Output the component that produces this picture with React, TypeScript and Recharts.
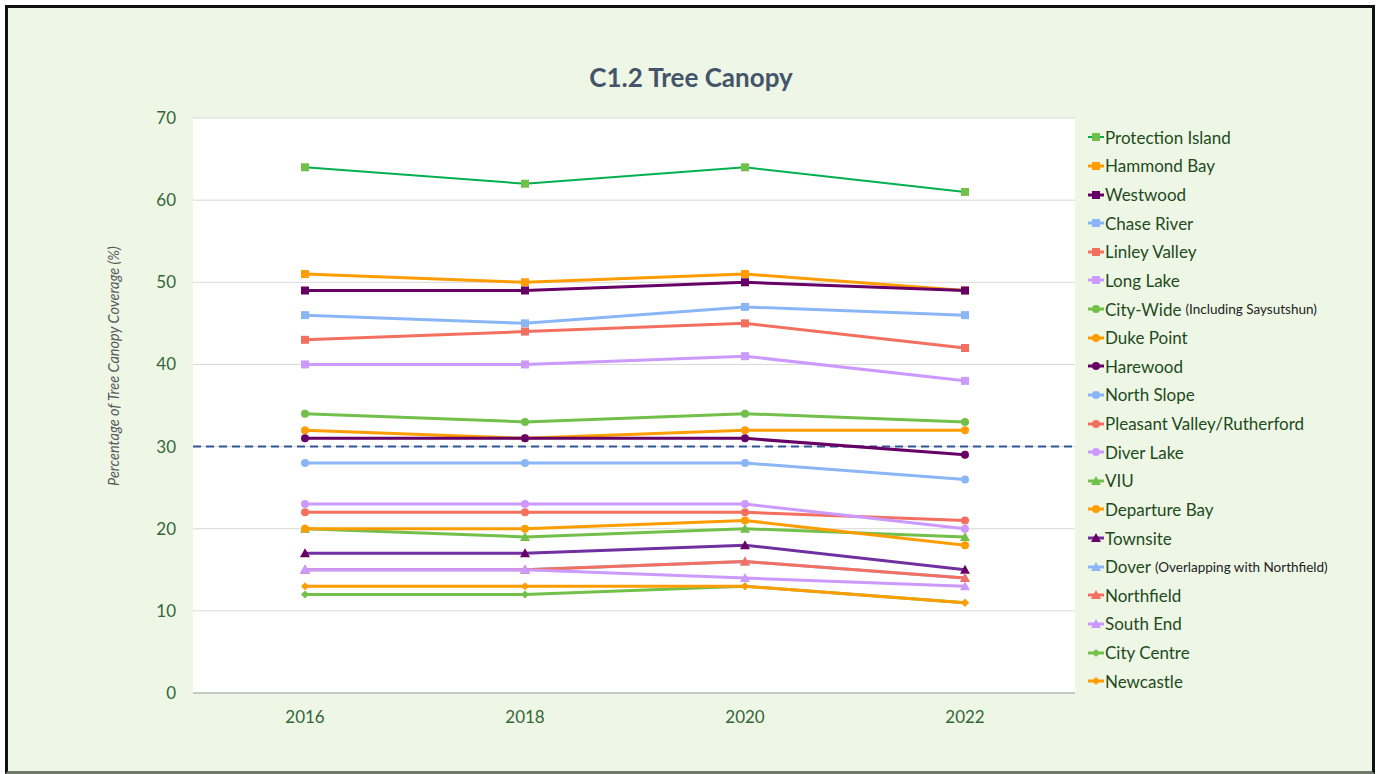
import React from 'react';
import {
  LineChart,
  Line,
  XAxis,
  YAxis,
  CartesianGrid,
  ReferenceLine
} from 'recharts';

const years = ['2016', '2018', '2020', '2022'];
const yTicks = [0, 10, 20, 30, 40, 50, 60, 70];
const target = 30;

const protectionIsland = [64, 62, 64, 61];
const hammondBay = [51, 50, 51, 49];
const westwood = [49, 49, 50, 49];
const chaseRiver = [46, 45, 47, 46];
const linleyValley = [43, 44, 45, 42];
const longLake = [40, 40, 41, 38];
const cityWide = [34, 33, 34, 33];
const dukePoint = [32, 31, 32, 32];
const harewood = [31, 31, 31, 29];
const northSlope = [28, 28, 28, 26];
const pleasantValley = [22, 22, 22, 21];
const diverLake = [23, 23, 23, 20];
const viu = [20, 19, 20, 19];
const departureBay = [20, 20, 21, 18];
const townsite = [17, 17, 18, 15];
const dover = [15, 15, 16, 14];
const northfield = [15, 15, 16, 14];
const southEnd = [15, 15, 14, 13];
const cityCentre = [12, 12, 13, 11];
const newcastle = [13, 13, 13, 11];

const GREEN = '#72BF4A';
const ORANGE = '#FF9D00';
const PURPLE = '#660066';
const BLUE = '#8AB6F8';
const SALMON = '#F37060';
const LAVENDER = '#CC99FF';

type Marker = 'square' | 'circle' | 'triangle' | 'diamond';

interface Series {
  key: string;
  name: string;
  note?: string;
  values: number[];
  color: string;
  lineColor?: string;
  width?: number;
  marker: Marker;
}

const series: Series[] = [
  { key: 'pi', name: 'Protection Island', values: protectionIsland, color: GREEN, lineColor: '#00B050', width: 2, marker: 'square' },
  { key: 'hb', name: 'Hammond Bay', values: hammondBay, color: ORANGE, marker: 'square' },
  { key: 'ww', name: 'Westwood', values: westwood, color: PURPLE, marker: 'square' },
  { key: 'cr', name: 'Chase River', values: chaseRiver, color: BLUE, marker: 'square' },
  { key: 'lv', name: 'Linley Valley', values: linleyValley, color: SALMON, marker: 'square' },
  { key: 'll', name: 'Long Lake', values: longLake, color: LAVENDER, marker: 'square' },
  { key: 'cw', name: 'City-Wide', note: '(Including Saysutshun)', values: cityWide, color: GREEN, marker: 'circle' },
  { key: 'dp', name: 'Duke Point', values: dukePoint, color: ORANGE, marker: 'circle' },
  { key: 'hw', name: 'Harewood', values: harewood, color: PURPLE, marker: 'circle' },
  { key: 'ns', name: 'North Slope', values: northSlope, color: BLUE, marker: 'circle' },
  { key: 'pv', name: 'Pleasant Valley/Rutherford', values: pleasantValley, color: SALMON, marker: 'circle' },
  { key: 'dl', name: 'Diver Lake', values: diverLake, color: LAVENDER, marker: 'circle' },
  { key: 'viu', name: 'VIU', values: viu, color: GREEN, marker: 'triangle' },
  { key: 'db', name: 'Departure Bay', values: departureBay, color: ORANGE, marker: 'circle' },
  { key: 'ts', name: 'Townsite', values: townsite, color: PURPLE, lineColor: '#7030A0', marker: 'triangle' },
  { key: 'dv', name: 'Dover', note: '(Overlapping with Northfield)', values: dover, color: BLUE, marker: 'triangle' },
  { key: 'nf', name: 'Northfield', values: northfield, color: SALMON, marker: 'triangle' },
  { key: 'se', name: 'South End', values: southEnd, color: LAVENDER, marker: 'triangle' },
  { key: 'cc', name: 'City Centre', values: cityCentre, color: GREEN, marker: 'diamond' },
  { key: 'nc', name: 'Newcastle', values: newcastle, color: ORANGE, marker: 'diamond' }
];

const data = years.map((year, i) => {
  const row: Record<string, string | number> = { year };
  series.forEach((s) => {
    row[s.key] = s.values[i];
  });
  return row;
});

const markerShape = (type: Marker, cx: number, cy: number, color: string, k?: string) => {
  if (type === 'square') {
    return <rect key={k} x={cx - 4} y={cy - 4} width={8} height={8} fill={color} />;
  }
  if (type === 'circle') {
    return <circle key={k} cx={cx} cy={cy} r={4} fill={color} />;
  }
  if (type === 'triangle') {
    return <path key={k} d={`M${cx},${cy - 5} L${cx + 5},${cy + 4} L${cx - 5},${cy + 4} Z`} fill={color} />;
  }
  return <path key={k} d={`M${cx},${cy - 4} L${cx + 4},${cy} L${cx},${cy + 4} L${cx - 4},${cy} Z`} fill={color} />;
};

const tickStyle = { fill: '#35663A', fontSize: 17, fontFamily: 'Lato, sans-serif' };

const App: React.FC = () => {
  return (
    <div style={{ position: 'absolute', left: 0, top: 0, width: 1377, height: 774, overflow: 'hidden', fontFamily: 'Lato, sans-serif' }}>
      <div
        style={{
          position: 'absolute',
          left: 5,
          top: 5,
          width: 1370,
          height: 769,
          boxSizing: 'border-box',
          border: '3px solid #111',
          borderBottomColor: '#6f7a6a',
          background: '#EEF7E6'
        }}
      />
      <div
        style={{
          position: 'absolute',
          left: 0,
          width: 1382,
          top: 61,
          textAlign: 'center',
          fontSize: 26,
          fontWeight: 700,
          color: '#44546A'
        }}
      >
        C1.2 Tree Canopy
      </div>
      <div
        style={{
          position: 'absolute',
          left: 113,
          top: 366,
          transform: 'translate(-50%, -50%) rotate(-90deg)',
          whiteSpace: 'nowrap',
          fontSize: 14.5,
          fontStyle: 'italic',
          color: '#595959'
        }}
      >
        Percentage of Tree Canopy Coverage (%)
      </div>
      <div style={{ position: 'absolute', left: 0, top: 0 }}>
        <LineChart width={1377} height={774} data={data} margin={{ top: 118, right: 302, bottom: 51, left: 133 }}>
          <CartesianGrid vertical={false} stroke="#d9d9d9" fill="#ffffff" />
          <XAxis
            dataKey="year"
            padding={{ left: 112, right: 110 }}
            height={30}
            stroke="#a6a6a6"
            tickLine={false}
            tickSize={0}
            tickMargin={18}
            tick={tickStyle}
          />
          <YAxis
            domain={[0, 70]}
            ticks={yTicks}
            width={60}
            axisLine={false}
            tickLine={false}
            tickSize={0}
            tickMargin={17}
            tick={tickStyle}
          />
          <ReferenceLine y={target} stroke="#2F5597" strokeWidth={2} strokeDasharray="8 5" />
          {series.map((s) => (
            <Line
              key={s.key}
              dataKey={s.key}
              name={s.name}
              type="linear"
              stroke={s.lineColor ?? s.color}
              strokeWidth={s.width ?? 3}
              isAnimationActive={false}
              activeDot={false}
              dot={(p: any) => markerShape(s.marker, p.cx, p.cy, s.color, `${s.key}-${p.index}`)}
            />
          ))}
        </LineChart>
      </div>
      <div style={{ position: 'absolute', left: 1087, top: 123 }}>
        {series.map((s) => (
          <div key={s.key} style={{ height: 28.63, display: 'flex', alignItems: 'center', whiteSpace: 'nowrap' }}>
            <svg width={18} height={12}>
              <line x1={1} y1={6} x2={17} y2={6} stroke={s.lineColor ?? s.color} strokeWidth={s.width ?? 3} />
              {markerShape(s.marker, 9, 6, s.color)}
            </svg>
            <span style={{ fontSize: 17, color: '#1E4A1C' }}>{s.name}</span>
            {s.note && <span style={{ fontSize: 13.5, color: '#222', marginLeft: 4 }}>{s.note}</span>}
          </div>
        ))}
      </div>
    </div>
  );
};

export default App;
